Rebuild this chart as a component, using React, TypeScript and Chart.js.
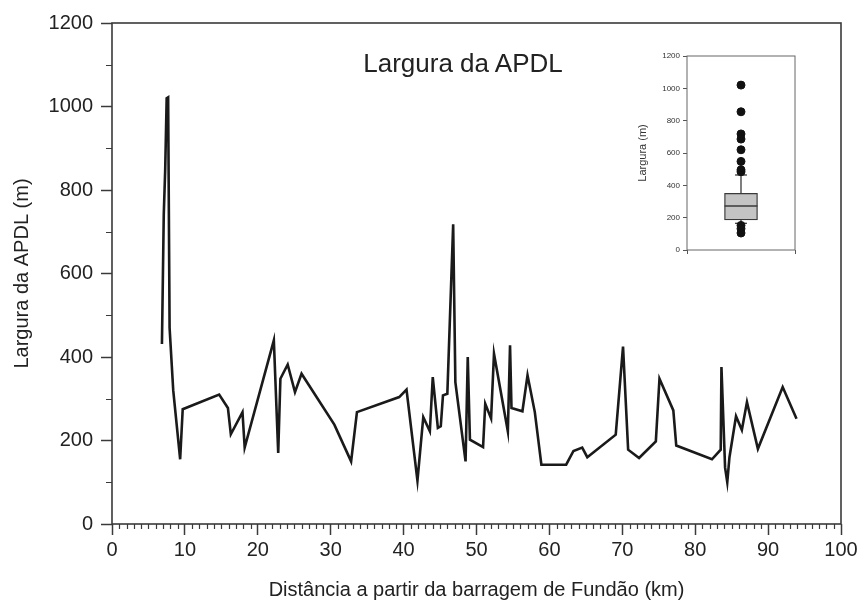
import React, { useEffect, useRef } from 'react';
import { Chart, registerables } from 'chart.js';

Chart.register(...registerables);

const FONT = '"Liberation Sans", Arial, Helvetica, sans-serif';

// Main series: distance from Fundão dam (km) and APDL width (m)
const distanceKm = [
  6.85, 7.1, 7.3, 7.5, 7.7, 7.9, 8.4, 9.35, 9.7,
  14.7, 15.9, 16.3, 17.9, 18.2, 22.2, 22.8, 23.1, 24.1, 25.1, 26.0,
  30.5, 32.8, 33.6, 39.4, 40.4, 41.9, 42.7, 43.6, 44.0, 44.7,
  45.1, 45.4, 46.0, 46.8, 46.9, 47.1, 48.5, 48.8, 49.1, 50.9,
  51.2, 52.0, 52.4, 54.3, 54.6, 54.8, 56.3, 57.0, 58.0, 58.9,
  62.3, 63.3, 64.5, 65.2, 69.1, 70.1, 70.8, 72.3, 74.6, 75.1,
  77.0, 77.4, 82.3, 83.5, 83.6, 84.1, 84.4, 84.7, 85.6, 86.4,
  87.1, 88.6, 92.0, 93.9,
];
const widthM = [
  431, 740, 850, 1020, 1022, 470, 320, 155, 275,
  310, 278, 215, 268, 183, 440, 170, 348, 382, 316, 360,
  238, 150, 268, 304, 322, 104, 256, 222, 352, 230,
  234, 308, 312, 718, 718, 340, 150, 400, 202, 184,
  288, 253, 408, 222, 428, 278, 270, 356, 268, 142,
  142, 175, 183, 160, 214, 425, 178, 158, 198, 348,
  272, 188, 155, 178, 376, 135, 100, 160, 258, 225,
  292, 180, 328, 252,
];

// Axis ticks
const xMajorTicks = [0, 10, 20, 30, 40, 50, 60, 70, 80, 90, 100];
const yMajorTicks = [0, 200, 400, 600, 800, 1000, 1200];
const xMinorStep = 1;
const yMinorStep = 100;

// Inset box plot statistics (m)
const boxQ1 = 186;
const boxMedian = 272;
const boxQ3 = 351;
const whiskerLow = 165;
const whiskerHigh = 464;
const outliers = [1020, 855, 718, 686, 620, 548, 496, 484, 152, 132, 105];
const insetYTicks = [0, 200, 400, 600, 800, 1000, 1200];
const insetCategory = 1;

const AXIS = '#3a3a3a';
const TEXT = '#222222';

const framePlugin = (color: string, width: number) => ({
  id: 'frame',
  afterDatasetsDraw(chart: any) {
    const { ctx, chartArea: a } = chart;
    ctx.save();
    ctx.strokeStyle = color;
    ctx.lineWidth = width;
    ctx.strokeRect(a.left, a.top, a.right - a.left, a.bottom - a.top);
    ctx.restore();
  },
});

const minorTicksPlugin = {
  id: 'minorTicks',
  afterDraw(chart: any) {
    const { ctx, chartArea: a, scales } = chart;
    const xs = scales.x;
    const ys = scales.y;
    ctx.save();
    ctx.strokeStyle = AXIS;
    ctx.lineWidth = 1.2;
    ctx.beginPath();
    for (let v = xs.min; v <= xs.max; v += xMinorStep) {
      if (xMajorTicks.includes(v)) continue;
      const px = Math.round(xs.getPixelForValue(v)) + 0.5;
      ctx.moveTo(px, a.bottom);
      ctx.lineTo(px, a.bottom + 5);
    }
    for (let v = ys.min; v <= ys.max; v += yMinorStep) {
      if (yMajorTicks.includes(v)) continue;
      const py = Math.round(ys.getPixelForValue(v)) + 0.5;
      ctx.moveTo(a.left, py);
      ctx.lineTo(a.left - 6, py);
    }
    ctx.stroke();
    ctx.restore();
  },
};

export default function App() {
  const mainRef = useRef<HTMLCanvasElement | null>(null);
  const insetRef = useRef<HTMLCanvasElement | null>(null);

  useEffect(() => {
    document.body.style.margin = '0';
    const mainCtx = mainRef.current!.getContext('2d')!;
    const main = new Chart(mainCtx, {
      type: 'scatter',
      data: {
        datasets: [
          {
            data: distanceKm.map((x, i) => ({ x, y: widthM[i] })),
            showLine: true,
            borderColor: '#1a1a1a',
            borderWidth: 2.6,
            pointRadius: 0,
            tension: 0,
          },
        ],
      },
      options: {
        animation: false,
        responsive: false,
        events: [],
        layout: { padding: { left: 0, top: 23, right: 22, bottom: 0 } },
        plugins: { legend: { display: false }, tooltip: { enabled: false } },
        scales: {
          x: {
            type: 'linear',
            min: 0,
            max: 100,
            afterBuildTicks: (s: any) => {
              s.ticks = xMajorTicks.map((v) => ({ value: v }));
            },
            afterFit: (s: any) => {
              s.height = 83;
            },
            ticks: {
              callback: (v: any) => String(v),
              font: { size: 20, family: FONT },
              color: TEXT,
              padding: 3,
              maxRotation: 0,
              autoSkip: false,
            },
            grid: { drawOnChartArea: false, tickLength: 11, tickWidth: 1.5, tickColor: AXIS },
            border: { display: false },
            title: {
              display: true,
              text: 'Distância a partir da barragem de Fundão (km)',
              font: { size: 20, family: FONT },
              color: TEXT,
              padding: { top: 4, bottom: 5 },
            },
          },
          y: {
            type: 'linear',
            min: 0,
            max: 1200,
            afterBuildTicks: (s: any) => {
              s.ticks = yMajorTicks.map((v) => ({ value: v }));
            },
            afterFit: (s: any) => {
              s.width = 112;
            },
            ticks: {
              callback: (v: any) => String(v),
              font: { size: 20, family: FONT },
              color: TEXT,
              padding: 8,
            },
            grid: { drawOnChartArea: false, tickLength: 11, tickWidth: 1.5, tickColor: AXIS },
            border: { display: false },
            title: {
              display: true,
              text: 'Largura da APDL (m)',
              font: { size: 20, family: FONT },
              color: TEXT,
              padding: { top: 10, bottom: 4 },
            },
          },
        },
      },
      plugins: [framePlugin(AXIS, 1.6), minorTicksPlugin],
    } as any);

    const insetCtx = insetRef.current!.getContext('2d')!;
    const boxHalf = 0.305;
    const capHalf = 0.11;
    const lineDs = (pts: { x: number; y: number }[], color: string, w: number) => ({
      type: 'line',
      data: pts,
      borderColor: color,
      borderWidth: w,
      pointRadius: 0,
      fill: false,
      tension: 0,
      order: 1,
    });
    const inset = new Chart(insetCtx, {
      type: 'bar',
      data: {
        datasets: [
          {
            type: 'bar',
            data: [{ x: insetCategory, y: [boxQ1, boxQ3] }],
            backgroundColor: '#c4c4c4',
            borderColor: '#3a3a3a',
            borderWidth: 1.3,
            borderSkipped: false,
            barThickness: 33,
            order: 5,
          },
          lineDs([{ x: insetCategory - boxHalf, y: boxMedian }, { x: insetCategory + boxHalf, y: boxMedian }], '#3a3a3a', 1.4),
          lineDs([{ x: insetCategory, y: boxQ3 }, { x: insetCategory, y: whiskerHigh }], '#3a3a3a', 1.3),
          lineDs([{ x: insetCategory, y: boxQ1 }, { x: insetCategory, y: whiskerLow }], '#3a3a3a', 1.3),
          lineDs([{ x: insetCategory - capHalf, y: whiskerHigh }, { x: insetCategory + capHalf, y: whiskerHigh }], '#3a3a3a', 1.3),
          lineDs([{ x: insetCategory - capHalf, y: whiskerLow }, { x: insetCategory + capHalf, y: whiskerLow }], '#3a3a3a', 1.3),
          {
            type: 'scatter',
            data: outliers.map((y) => ({ x: insetCategory, y })),
            backgroundColor: '#111111',
            borderColor: '#111111',
            pointRadius: 4,
            showLine: false,
            order: 0,
          },
        ],
      },
      options: {
        animation: false,
        responsive: false,
        events: [],
        layout: { padding: { left: 0, top: 11, right: 15, bottom: 0 } },
        plugins: { legend: { display: false }, tooltip: { enabled: false } },
        scales: {
          x: {
            type: 'linear',
            min: 0,
            max: 2,
            offset: false,
            afterBuildTicks: (s: any) => {
              s.ticks = [{ value: insetCategory }];
            },
            afterFit: (s: any) => {
              s.height = 10;
            },
            ticks: { display: false },
            grid: { drawOnChartArea: false, tickLength: 4, tickWidth: 1, tickColor: '#555' },
            border: { display: false },
          },
          y: {
            type: 'linear',
            min: 0,
            max: 1200,
            afterBuildTicks: (s: any) => {
              s.ticks = insetYTicks.map((v) => ({ value: v }));
            },
            afterFit: (s: any) => {
              s.width = 62;
            },
            ticks: {
              callback: (v: any) => String(v),
              font: { size: 8, family: FONT },
              color: '#333',
              padding: 3,
            },
            grid: { drawOnChartArea: false, tickLength: 4, tickWidth: 1, tickColor: '#555' },
            border: { display: false },
            title: {
              display: true,
              text: 'Largura (m)',
              font: { size: 11, family: FONT },
              color: '#333',
              padding: { top: 11, bottom: 2 },
            },
          },
        },
      },
      plugins: [framePlugin('#666', 1)],
    } as any);

    return () => {
      main.destroy();
      inset.destroy();
    };
  }, []);

  return (
    <div style={{ position: 'relative', width: 863, height: 607, background: '#fff' }}>
      <canvas ref={mainRef} width={863} height={607} style={{ position: 'absolute', left: 0, top: 0, width: 863, height: 607 }} />
      <canvas ref={insetRef} width={185} height={215} style={{ position: 'absolute', left: 625, top: 45, width: 185, height: 215 }} />
      <div
        style={{
          position: 'absolute',
          left: 263,
          top: 50,
          width: 400,
          textAlign: 'center',
          fontFamily: FONT,
          fontSize: 26,
          lineHeight: '26px',
          color: TEXT,
          whiteSpace: 'nowrap',
        }}
      >
        Largura da APDL
      </div>
    </div>
  );
}
